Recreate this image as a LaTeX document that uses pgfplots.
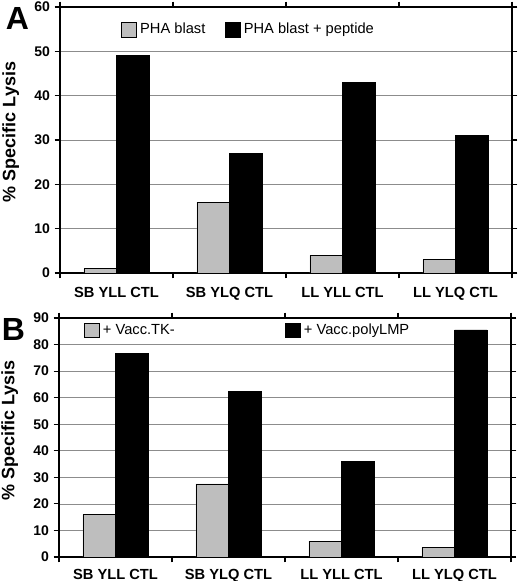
\documentclass[border=0pt]{standalone}
\usepackage{fontspec}
\setmainfont{Liberation Sans}
\usepackage{pgfplots}
\pgfplotsset{compat=1.18}

\definecolor{bargray}{RGB}{190,190,190}
\definecolor{gridgray}{RGB}{140,140,140}

\pgfplotsset{
  panel/.style={
    scale only axis, width=339pt,
    ybar=0pt, bar width=24.4pt,
    xmin=-0.5, xmax=3.5, ymin=0,
    % ticks between the categories, names centred under them
    xtick={-0.5,0.5,1.5,2.5,3.5}, xticklabels={},
    extra x ticks={0,1,2,3},
    extra x tick labels={SB YLL CTL, SB YLQ CTL, LL YLL CTL, LL YLQ CTL},
    tick align=outside, major tick length=4pt,
    ymajorgrids, grid style={gridgray, line width=0.5pt},
    axis line style={line width=0.9pt},
    tick style={black, line width=0.9pt},
    /pgf/number format/assume math mode=true,
    yticklabel style={font=\bfseries\fontsize{10.5}{12}\selectfont},
    xticklabel style={font=\bfseries\fontsize{11}{13}\selectfont},
    every axis y label/.style={at={(rel axis cs:0,0.53)}, xshift=-37pt,
      rotate=90, anchor=center, font=\bfseries\fontsize{13.5}{15}\selectfont},
    ylabel={\% Specific Lysis},
    legend style={draw=none, fill=none, legend columns=2, inner sep=0pt,
      outer sep=0pt, anchor=west, font=\fontsize{11}{13}\selectfont,
      nodes={inner sep=2.5pt}},
    legend cell align=left,
  },
  sq/.style={draw=black, line width=0.6pt,
    legend image code/.code={\draw[##1, line width=0.6pt] (0pt,-5.6pt) rectangle (11.25pt,5.6pt);}},
}

\begin{document}
\begin{tikzpicture}
\path[use as bounding box] (0,0) rectangle (390pt,-435.75pt);

% panel A
\begin{axis}[panel, at={(45pt,-5.25pt)}, anchor=north west,
    height=199.5pt, ymax=60, ytick={0,10,...,60},
    extra x tick style={major tick length=0pt, xticklabel style={yshift=-7.5pt}},
    legend style={at={(0.135,0.915)},
      /tikz/every even column/.append style={column sep=12pt}}]
\addplot[sq, fill=bargray] coordinates {(0,1) (1,16) (2,4) (3,3)};
\addplot[sq, fill=black] coordinates {(0,49) (1,27) (2,43) (3,31)};
\legend{PHA blast, PHA blast + peptide}
\end{axis}

% panel B
\begin{axis}[panel, at={(44.25pt,-238.5pt)}, anchor=north west,
    height=179.25pt, ymax=90, ytick={0,10,...,90},
    extra x tick style={major tick length=0pt, xticklabel style={yshift=-6pt}},
    legend style={at={(0.055,0.948)},
      /tikz/every even column/.append style={column sep=80pt}}]
\addplot[sq, fill=bargray] coordinates {(0,16) (1,27.5) (2,6) (3,3.5)};
\addplot[sq, fill=black] coordinates {(0,76.5) (1,62.5) (2,36) (3,85.5)};
\legend{+ Vacc.TK-, + Vacc.polyLMP}
\end{axis}

\node[font=\bfseries\fontsize{24}{24}\selectfont] at (13.1pt,-13.5pt) {A};
\node[font=\bfseries\fontsize{24}{24}\selectfont] at (10pt,-246.75pt) {B};
\end{tikzpicture}
\end{document}
